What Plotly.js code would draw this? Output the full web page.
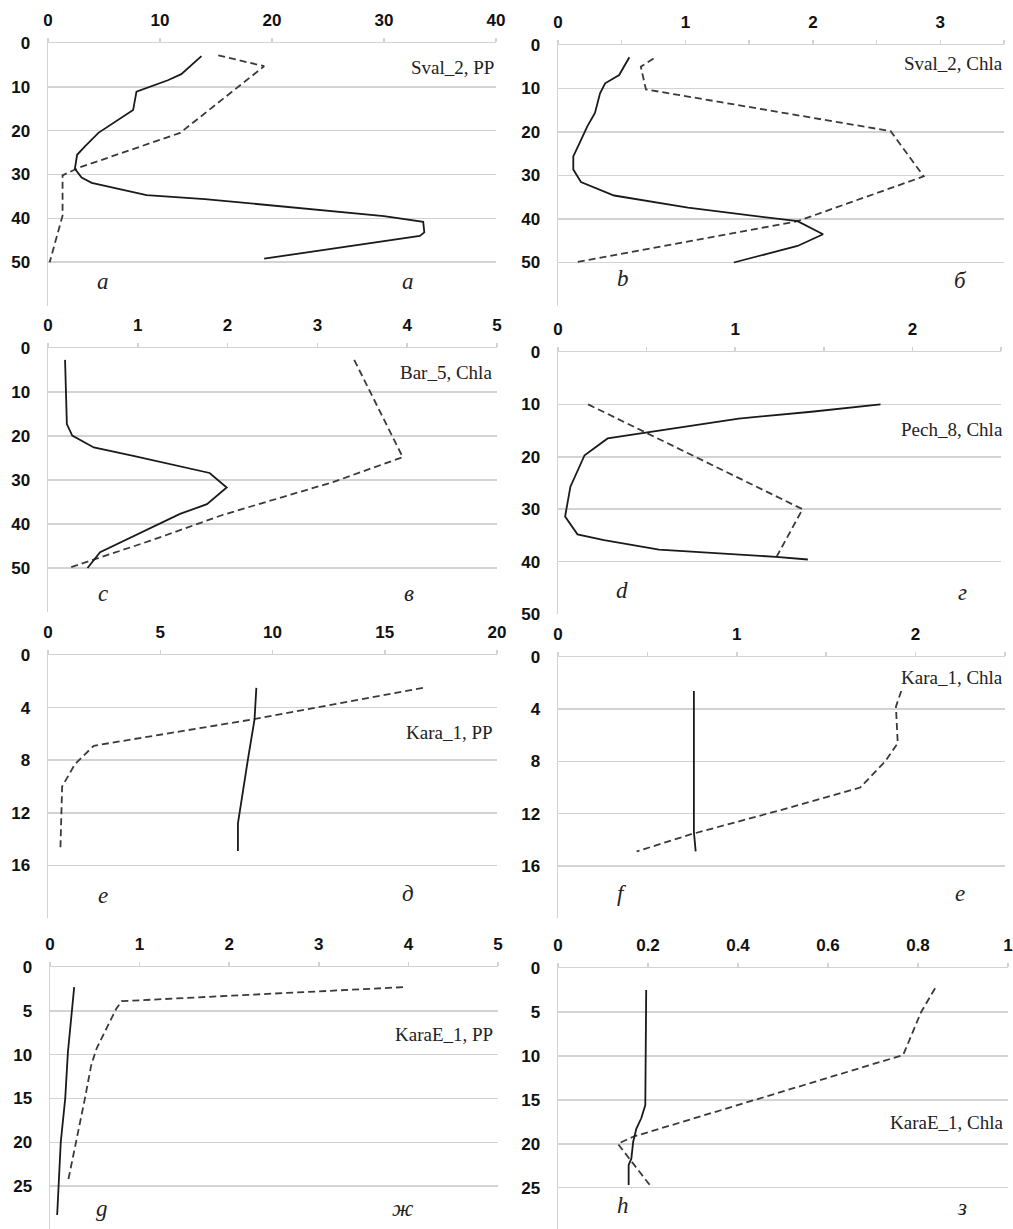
<!DOCTYPE html>
<html><head><meta charset="utf-8">
<script src="https://cdn.plot.ly/plotly-3.0.1.min.js"></script>
<style>html,body{margin:0;padding:0;background:#fff;} #chart{width:1013px;height:1229px;}</style>
</head><body><div id="chart"></div>
<script>
// ---------- DATA ----------
// a: Sval_2, PP
const aSolidX     = [13.7, 11.9, 10.7, 7.9, 7.6, 5.8, 4.5, 3.3, 2.6, 2.4, 3.0, 3.9, 8.8, 14.0, 20.0, 30.0, 33.5, 33.6, 33.2, 19.3];
const aSolidDepth = [3.0, 7.1, 8.5, 11.1, 15.3, 18.3, 20.5, 23.6, 25.5, 28.7, 30.7, 31.9, 34.7, 35.6, 37.0, 39.5, 40.8, 43.2, 44.0, 49.2];
const aDashX      = [15.2, 19.3, 11.8, 2.7, 1.3, 1.3, 0.15];
const aDashDepth  = [2.8, 5.3, 20.5, 28.5, 30.2, 39.4, 50];
// b: Sval_2, Chla
const bSolidX     = [0.56, 0.48, 0.37, 0.33, 0.29, 0.23, 0.17, 0.12, 0.12, 0.18, 0.44, 1.02, 1.88, 2.08, 1.88, 1.38];
const bSolidDepth = [2.8, 6.9, 8.8, 11.1, 15.6, 18.7, 22.5, 25.6, 28.6, 31.5, 34.6, 37.4, 40.5, 43.5, 46.2, 50.0];
const bDashX      = [0.75, 0.65, 0.69, 2.61, 2.87, 1.88, 0.13];
const bDashDepth  = [3.1, 5.0, 10.2, 19.8, 30.2, 40.5, 50];
// c: Bar_5, Chla
const cSolidX     = [0.19, 0.21, 0.27, 0.51, 0.95, 1.80, 1.99, 1.77, 1.47, 0.88, 0.58, 0.44];
const cSolidDepth = [2.7, 17.3, 19.9, 22.6, 24.5, 28.4, 31.7, 35.5, 37.7, 43.4, 46.4, 50];
const cDashX      = [3.41, 3.95, 3.17, 1.95, 1.14, 0.53, 0.23];
const cDashDepth  = [2.7, 24.8, 30.5, 37.9, 43.8, 48.0, 50];
// d: Pech_8, Chla
const dSolidX     = [1.82, 1.43, 1.02, 0.55, 0.28, 0.15, 0.07, 0.04, 0.11, 0.26, 0.57, 1.23, 1.41];
const dSolidDepth = [10.0, 11.4, 12.7, 15.2, 16.5, 19.7, 25.7, 31.4, 34.8, 35.9, 37.7, 39.1, 39.6];
const dDashX      = [0.17, 1.38, 1.23];
const dDashDepth  = [10.0, 30.0, 39.3];
// e: Kara_1, PP
const eSolidX     = [9.28, 9.2, 8.9, 8.46, 8.46];
const eSolidDepth = [2.5, 4.9, 8.0, 12.8, 14.9];
const eDashX      = [16.7, 12.0, 9.1, 2.04, 1.2, 0.63, 0.55];
const eDashDepth  = [2.5, 4.0, 4.9, 6.9, 8.3, 10.0, 14.9];
// f: Kara_1, Chla
const fSolidX     = [0.76, 0.76, 0.77];
const fSolidDepth = [2.6, 13.4, 14.9];
const fDashX      = [1.92, 1.89, 1.90, 1.83, 1.69, 1.28, 0.74, 0.44];
const fDashDepth  = [2.6, 3.8, 6.6, 8.0, 10.0, 11.6, 13.6, 14.9];
// g: KaraE_1, PP
const gSolidX     = [0.27, 0.20, 0.17, 0.12, 0.08];
const gSolidDepth = [2.3, 9.7, 15.0, 20.0, 28.3];
const gDashX      = [3.94, 0.80, 0.74, 0.52, 0.46, 0.39, 0.20];
const gDashDepth  = [2.3, 3.9, 4.75, 9.3, 11.2, 15.0, 24.5];
// h: KaraE_1, Chla
const hSolidX     = [0.196, 0.194, 0.185, 0.174, 0.167, 0.163, 0.157, 0.157];
const hSolidDepth = [2.5, 15.6, 17.1, 18.3, 19.8, 21.7, 22.4, 24.7];
const hDashX      = [0.838, 0.807, 0.767, 0.167, 0.133, 0.204];
const hDashDepth  = [2.3, 5.0, 9.9, 19.2, 20.0, 24.7];

const panelNames  = ['Sval_2, PP', 'Sval_2, Chla', 'Bar_5, Chla', 'Pech_8, Chla', 'Kara_1, PP', 'Kara_1, Chla', 'KaraE_1, PP', 'KaraE_1, Chla'];
const latinLetters = ['a', 'b', 'c', 'd', 'e', 'f', 'g', 'h'];
const cyrLetters   = ['а', 'б', 'в', 'г', 'д', 'е', 'ж', 'з'];

const xRanges   = [[0, 40], [0, 3.5], [0, 5], [0, 2.5], [0, 20], [0, 2.5], [0, 5], [0, 1]];
const xDticks   = [10, 1, 1, 1, 5, 1, 1, 0.2];
const xMinor    = [null, 0.5, null, 0.5, null, 0.5, null, null];
const yMax      = [60, 60, 60, 50, 20, 20, 29.9, 29.7];
const yTickVals = [[0,10,20,30,40,50,60],[0,10,20,30,40,50,60],[0,10,20,30,40,50,60],[0,10,20,30,40,50],[0,4,8,12,16,20],[0,4,8,12,16,20],[0,5,10,15,20,25,30],[0,5,10,15,20,25,30]];
const yTickText = [['0','10','20','30','40','50',''],['0','10','20','30','40','50',''],['0','10','20','30','40','50',''],['0','10','20','30','40','50'],['0','4','8','12','16',''],['0','4','8','12','16',''],['0','5','10','15','20','25',''],['0','5','10','15','20','25','']];

const solidX = [aSolidX, bSolidX, cSolidX, dSolidX, eSolidX, fSolidX, gSolidX, hSolidX];
const solidD = [aSolidDepth, bSolidDepth, cSolidDepth, dSolidDepth, eSolidDepth, fSolidDepth, gSolidDepth, hSolidDepth];
const dashX  = [aDashX, bDashX, cDashX, dDashX, eDashX, fDashX, gDashX, hDashX];
const dashD  = [aDashDepth, bDashDepth, cDashDepth, dDashDepth, eDashDepth, fDashDepth, gDashDepth, hDashDepth];

// ---------- LAYOUT (pixel boxes of plot areas) ----------
const W = 1013, H = 1229;
const boxes = [ // left, right, top, bottom
  [48, 496, 43, 306], [558, 1004, 45, 306],
  [48, 497, 348, 612], [558, 1001, 352, 614],
  [48, 497, 655, 918], [558, 1005, 657, 918],
  [50, 498, 967, 1229], [558, 1008, 968, 1229]
];
const namePos = [[496, 67], [1005, 63], [494, 372], [1005, 429], [495, 733], [1005, 677], [495, 1034], [1005, 1122]];
const latinPos = [[103, 282], [623, 279], [103, 593], [622, 590], [103, 895], [622, 893], [102, 1208], [623, 1205]];
const cyrPos   = [[408, 282], [960, 280], [409, 593], [962, 592], [408, 893], [960, 894], [403, 1208], [962, 1207]];

const gridCol = '#d3d3d3';
const tickFont = {family: 'Liberation Sans, Arial, sans-serif', size: 17, color: '#111', weight: 'bold'};

const traces = [];
const layout = {
  width: W, height: H, margin: {l: 0, r: 0, t: 0, b: 0},
  paper_bgcolor: '#fff', plot_bgcolor: '#fff', showlegend: false,
  annotations: []
};

for (let i = 0; i < 8; i++) {
  const n = i + 1;
  const xa = n === 1 ? 'x' : 'x' + n;
  const ya = n === 1 ? 'y' : 'y' + n;
  traces.push({x: dashX[i], y: dashD[i], xaxis: xa, yaxis: ya, mode: 'lines', type: 'scatter',
    line: {color: '#3a3a3a', width: 1.8, dash: '7px,4px'}, hoverinfo: 'skip'});
  traces.push({x: solidX[i], y: solidD[i], xaxis: xa, yaxis: ya, mode: 'lines', type: 'scatter',
    line: {color: '#1a1a1a', width: 1.8}, hoverinfo: 'skip'});
  const [l, r, t, b] = boxes[i];
  const xdom = [l / W, r / W];
  const ydom = [Math.max(0, (H - b) / H), (H - t) / H];
  const xKey = n === 1 ? 'xaxis' : 'xaxis' + n;
  const yKey = n === 1 ? 'yaxis' : 'yaxis' + n;
  const xax = {
    domain: xdom, anchor: ya, side: 'top', range: xRanges[i], tick0: 0, dtick: xDticks[i],
    showgrid: false, zeroline: false, showline: true, linecolor: gridCol, linewidth: 1.5,
    ticks: 'outside', ticklen: 4, tickcolor: gridCol, tickwidth: 1.5,
    tickfont: tickFont, ticklabelstandoff: 5, fixedrange: true
  };
  if (xMinor[i]) xax.minor = {dtick: xMinor[i], tick0: 0, ticks: 'outside', ticklen: 4, tickcolor: gridCol, tickwidth: 1.5, showgrid: false};
  layout[xKey] = xax;
  layout[yKey] = {
    domain: ydom, anchor: xa, range: [yMax[i], 0], tickmode: 'array',
    tickvals: yTickVals[i], ticktext: yTickText[i],
    showgrid: true, gridcolor: gridCol, gridwidth: 1.5, zeroline: false,
    showline: true, linecolor: gridCol, linewidth: 1.5, ticks: '',
    tickfont: tickFont, ticklabelstandoff: 13, fixedrange: true
  };
  layout.annotations.push({xref: 'paper', yref: 'paper', x: namePos[i][0] / W, y: (H - namePos[i][1]) / H,
    xanchor: 'right', yanchor: 'middle', showarrow: false, text: panelNames[i],
    font: {family: 'Liberation Serif, Times New Roman, serif', size: 19, color: '#222'}});
  layout.annotations.push({xref: 'paper', yref: 'paper', x: latinPos[i][0] / W, y: (H - latinPos[i][1]) / H,
    xanchor: 'center', yanchor: 'middle', showarrow: false, text: '<i>' + latinLetters[i] + '</i>',
    font: {family: 'Liberation Serif, Times New Roman, serif', size: 23, color: '#222'}});
  layout.annotations.push({xref: 'paper', yref: 'paper', x: cyrPos[i][0] / W, y: (H - cyrPos[i][1]) / H,
    xanchor: 'center', yanchor: 'middle', showarrow: false, text: '<i>' + cyrLetters[i] + '</i>',
    font: {family: 'Liberation Serif, Times New Roman, serif', size: 23, color: '#222'}});
}

Plotly.newPlot('chart', traces, layout, {staticPlot: true, displayModeBar: false});
</script>
</body></html>
